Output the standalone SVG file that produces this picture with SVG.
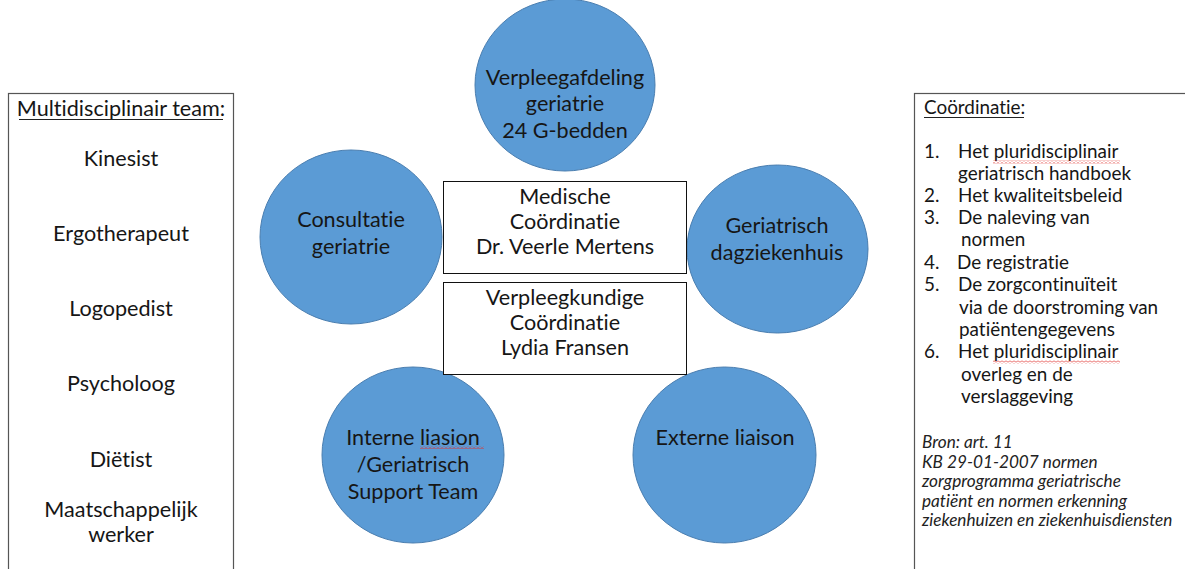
<svg xmlns="http://www.w3.org/2000/svg" width="1185" height="569" viewBox="0 0 1185 569">
  <style>
    .t { font-family: Lato, "Open Sans", "Liberation Sans", sans-serif; fill: #161616; font-variant-ligatures: none; font-feature-settings: "liga" 0, "dlig" 0; }
    .c20 { font-size: 21.6px; text-anchor: middle; }
    .l18 { font-size: 18.9px; }
    .it { font-size: 17.2px; font-style: italic; fill: #222; }
    .node { fill: #5B9BD5; stroke: #4A7EB0; stroke-width: 1; }
    .box { fill: #fff; stroke: #111; stroke-width: 1; }
    .panel { fill: #fff; stroke: #555; stroke-width: 1.2; }
    .ul { stroke: #222; stroke-width: 1.2; }
  </style>
  <defs>
    <!-- red squiggle used under flagged words -->
    <pattern id="squiggle" width="4" height="3" patternUnits="userSpaceOnUse">
      <path d="M0 2.5 L2 0.5 L4 2.5" fill="none" stroke="#e0302c" stroke-width="0.9"/>
    </pattern>
  </defs>
  <rect width="1185" height="569" fill="#fff"/>

  <!-- left panel: team members -->
  <g id="panel-team">
    <rect class="panel" x="8.5" y="93.5" width="225" height="490"/>
    <text class="t c20" x="121" y="116">Multidisciplinair team:</text>
    <line class="ul" x1="19" y1="119.5" x2="223" y2="119.5"/>
    <text class="t c20" x="121" y="166">Kinesist</text>
    <text class="t c20" x="121" y="241">Ergotherapeut</text>
    <text class="t c20" x="121" y="316">Logopedist</text>
    <text class="t c20" x="121" y="391">Psycholoog</text>
    <text class="t c20" x="121" y="467">Diëtist</text>
    <text class="t c20" x="121" y="517">Maatschappelijk</text>
    <text class="t c20" x="121" y="542">werker</text>
  </g>

  <!-- right panel: coordination tasks -->
  <g id="panel-coordinatie">
    <rect class="panel" x="914.5" y="93.5" width="290" height="490"/>
    <text class="t l18" x="924" y="114">Coördinatie:</text>
    <line class="ul" x1="924" y1="117.5" x2="1024" y2="117.5"/>
    <text class="t l18" x="924" y="158">1.</text>
    <text class="t l18" x="958" y="158">Het pluridisciplinair</text>
    <text class="t l18" x="958" y="180">geriatrisch handboek</text>
    <text class="t l18" x="924" y="202">2.</text>
    <text class="t l18" x="958" y="202">Het kwaliteitsbeleid</text>
    <text class="t l18" x="924" y="224">3.</text>
    <text class="t l18" x="958" y="224">De naleving van</text>
    <text class="t l18" x="961" y="246">normen</text>
    <text class="t l18" x="924" y="269">4.</text>
    <text class="t l18" x="957" y="269">De registratie</text>
    <text class="t l18" x="924" y="291">5.</text>
    <text class="t l18" x="958" y="291">De zorgcontinuïteit</text>
    <text class="t l18" x="959" y="314">via de doorstroming van</text>
    <text class="t l18" x="959" y="336">patiëntengegevens</text>
    <text class="t l18" x="924" y="358">6.</text>
    <text class="t l18" x="958" y="358">Het pluridisciplinair</text>
    <text class="t l18" x="961" y="381">overleg en de</text>
    <text class="t l18" x="961" y="403">verslaggeving</text>
    <rect x="993" y="160.5" width="127" height="3" fill="url(#squiggle)"/>
    <rect x="993" y="360.5" width="127" height="3" fill="url(#squiggle)"/>
    <text class="t it" x="922" y="448">Bron: art. 11</text>
    <text class="t it" x="922" y="468">KB 29-01-2007 normen</text>
    <text class="t it" x="922" y="487">zorgprogramma geriatrische</text>
    <text class="t it" x="922" y="507">patiënt en normen erkenning</text>
    <text class="t it" x="922" y="526">ziekenhuizen en ziekenhuisdiensten</text>
  </g>

  <!-- no drawn connectors between the units -->
  <g id="connectors"/>

  <!-- care units -->
  <g id="node-verpleegafdeling">
    <ellipse class="node" cx="565" cy="85" rx="90" ry="86"/>
    <text class="t c20" x="565" y="85">Verpleegafdeling</text>
    <text class="t c20" x="565" y="111">geriatrie</text>
    <text class="t c20" x="565" y="138">24 G-bedden</text>
  </g>
  <g id="node-consultatie">
    <ellipse class="node" cx="351" cy="237" rx="91" ry="87"/>
    <text class="t c20" x="351" y="227">Consultatie</text>
    <text class="t c20" x="351" y="254">geriatrie</text>
  </g>
  <g id="node-dagziekenhuis">
    <ellipse class="node" cx="777.5" cy="249" rx="90.5" ry="84"/>
    <text class="t c20" x="777" y="233">Geriatrisch</text>
    <text class="t c20" x="777" y="260">dagziekenhuis</text>
  </g>
  <g id="node-interne-liaison">
    <ellipse class="node" cx="413" cy="455" rx="91" ry="88"/>
    <text class="t c20" x="413" y="445">Interne liasion</text>
    <text class="t c20" x="413" y="472">/Geriatrisch</text>
    <text class="t c20" x="413" y="499">Support Team</text>
    <rect x="420" y="446" width="64" height="3" fill="url(#squiggle)"/>
  </g>
  <g id="node-externe-liaison">
    <ellipse class="node" cx="724.5" cy="455" rx="91.5" ry="88"/>
    <text class="t c20" x="725" y="445">Externe liaison</text>
  </g>

  <!-- coordination boxes -->
  <g id="node-medische-coordinatie">
    <rect class="box" x="443.5" y="181.5" width="243" height="92"/>
    <text class="t c20" x="565" y="204">Medische</text>
    <text class="t c20" x="565" y="229">Coördinatie</text>
    <text class="t c20" x="565" y="254">Dr. Veerle Mertens</text>
  </g>
  <g id="node-verpleegkundige-coordinatie">
    <rect class="box" x="443.5" y="282.5" width="243" height="92"/>
    <text class="t c20" x="565" y="305">Verpleegkundige</text>
    <text class="t c20" x="565" y="330">Coördinatie</text>
    <text class="t c20" x="565" y="355">Lydia Fransen</text>
  </g>
</svg>
